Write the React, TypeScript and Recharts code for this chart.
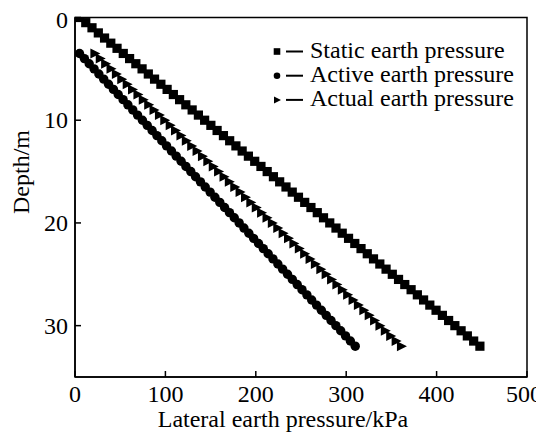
import React from 'react';
import { ScatterChart, Scatter, XAxis, YAxis, ReferenceArea } from 'recharts';

// Depth (m) and lateral earth pressure (kPa) for each series
const staticDepth = [0, 0.5, 1, 1.5, 2, 2.5, 3, 3.5, 4, 4.5, 5, 5.5, 6, 6.5, 7, 7.5, 8, 8.5, 9, 9.5, 10, 10.5, 11, 11.5, 12, 12.5, 13, 13.5, 14, 14.5, 15, 15.5, 16, 16.5, 17, 17.5, 18, 18.5, 19, 19.5, 20, 20.5, 21, 21.5, 22, 22.5, 23, 23.5, 24, 24.5, 25, 25.5, 26, 26.5, 27, 27.5, 28, 28.5, 29, 29.5, 30, 30.5, 31, 31.5, 32];
const staticPressure = [5, 11.9, 18.8, 25.8, 32.7, 39.6, 46.5, 53.4, 60.4, 67.3, 74.2, 81.1, 88.0, 95.0, 101.9, 108.8, 115.7, 122.6, 129.6, 136.5, 143.4, 150.3, 157.2, 164.2, 171.1, 178.0, 184.9, 191.8, 198.8, 205.7, 212.6, 219.5, 226.4, 233.4, 240.3, 247.2, 254.1, 261.0, 268.0, 274.9, 281.8, 288.7, 295.6, 302.6, 309.5, 316.4, 323.3, 330.2, 337.2, 344.1, 351.0, 357.9, 364.8, 371.8, 378.7, 385.6, 392.5, 399.4, 406.4, 413.3, 420.2, 427.1, 434.0, 441.0, 447.9];

const activeDepth = [3.5, 4, 4.5, 5, 5.5, 6, 6.5, 7, 7.5, 8, 8.5, 9, 9.5, 10, 10.5, 11, 11.5, 12, 12.5, 13, 13.5, 14, 14.5, 15, 15.5, 16, 16.5, 17, 17.5, 18, 18.5, 19, 19.5, 20, 20.5, 21, 21.5, 22, 22.5, 23, 23.5, 24, 24.5, 25, 25.5, 26, 26.5, 27, 27.5, 28, 28.5, 29, 29.5, 30, 30.5, 31, 31.5, 32];
const activePressure = [5, 10.4, 15.7, 21.1, 26.4, 31.8, 37.1, 42.5, 47.8, 53.2, 58.5, 63.9, 69.2, 74.6, 79.9, 85.3, 90.6, 96.0, 101.3, 106.7, 112.0, 117.4, 122.7, 128.1, 133.4, 138.8, 144.1, 149.5, 154.8, 160.2, 165.5, 170.9, 176.2, 181.6, 186.9, 192.3, 197.6, 203.0, 208.3, 213.7, 219.0, 224.4, 229.7, 235.1, 240.4, 245.8, 251.1, 256.5, 261.8, 267.2, 272.5, 277.9, 283.2, 288.6, 293.9, 299.3, 304.6, 310.0];

const actualDepth = [3.5, 4, 4.5, 5, 5.5, 6, 6.5, 7, 7.5, 8, 8.5, 9, 9.5, 10, 10.5, 11, 11.5, 12, 12.5, 13, 13.5, 14, 14.5, 15, 15.5, 16, 16.5, 17, 17.5, 18, 18.5, 19, 19.5, 20, 20.5, 21, 21.5, 22, 22.5, 23, 23.5, 24, 24.5, 25, 25.5, 26, 26.5, 27, 27.5, 28, 28.5, 29, 29.5, 30, 30.5, 31, 31.5, 32];
const actualPressure = [22, 27.9, 33.9, 39.8, 45.8, 51.7, 57.7, 63.6, 69.6, 75.5, 81.5, 87.4, 93.4, 99.3, 105.3, 111.2, 117.2, 123.1, 129.1, 135.0, 141.0, 146.9, 152.9, 158.8, 164.8, 170.7, 176.7, 182.6, 188.6, 194.5, 200.5, 206.4, 212.4, 218.3, 224.3, 230.2, 236.2, 242.1, 248.1, 254.0, 260.0, 265.9, 271.9, 277.8, 283.8, 289.7, 295.7, 301.6, 307.6, 313.5, 319.5, 325.4, 331.4, 337.3, 343.3, 349.2, 355.2, 361.1];

const seriesNames = ['Static earth pressure', 'Active earth pressure', 'Actual earth pressure'];
const xTicks = [0, 100, 200, 300, 400, 500];
const yTicks = [0, 10, 20, 30];
const xTitle = 'Lateral earth pressure/kPa';
const yTitle = 'Depth/m';

const FONT = 'Liberation Serif, Times New Roman, DejaVu Serif, serif';
const FS = 24;
const textStyle: React.CSSProperties = { fontFamily: FONT, fontSize: FS };

const W = 544;
const H = 432;

const toPoints = (ps: number[], ds: number[]) => ps.map((p, i) => ({ x: p, y: ds[i] }));
const staticData = toPoints(staticPressure, staticDepth);
const activeData = toPoints(activePressure, activeDepth);
const actualData = toPoints(actualPressure, actualDepth);

const SquareShape = (props: any) => {
  const { cx, cy } = props;
  if (cx == null || cy == null) return null;
  return <rect x={cx - 4.6} y={cy - 4.6} width={9.2} height={9.2} fill="#000" />;
};
const CircleShape = (props: any) => {
  const { cx, cy } = props;
  if (cx == null || cy == null) return null;
  return <circle cx={cx} cy={cy} r={4.7} fill="#000" />;
};
const TriShape = (props: any) => {
  const { cx, cy } = props;
  if (cx == null || cy == null) return null;
  return <polygon points={`${cx - 4.5},${cy - 5} ${cx + 5.5},${cy} ${cx - 4.5},${cy + 5}`} fill="#000" />;
};

const XTick = (props: any) => {
  const { x, y, payload } = props;
  const tx = Math.min(x, W - 20);
  return (
    <g>
      <line x1={x} y1={y} x2={x} y2={y - 6} stroke="#000" strokeWidth={1.5} />
      <text x={tx} y={y + 25} textAnchor="middle" style={textStyle} fill="#000">
        {payload.value}
      </text>
    </g>
  );
};

const YTick = (props: any) => {
  const { x, y, payload } = props;
  return (
    <g>
      <line x1={x} y1={y} x2={x + 6} y2={y} stroke="#000" strokeWidth={1.5} />
      <text x={x - 7} y={Math.max(y + 8, 28)} textAnchor="end" style={textStyle} fill="#000">
        {payload.value}
      </text>
    </g>
  );
};

const LegendMarker = ({ i, cx, cy }: { i: number; cx: number; cy: number }) => {
  if (i === 0) return <rect x={cx - 3.3} y={cy - 3.3} width={6.6} height={6.6} fill="#000" />;
  if (i === 1) return <circle cx={cx} cy={cy} r={3.3} fill="#000" />;
  return <polygon points={`${cx - 3},${cy - 3.5} ${cx + 4},${cy} ${cx - 3},${cy + 3.5}`} fill="#000" />;
};

export default function App() {
  return (
    <div style={{ position: 'relative', width: W, height: H, margin: '-8px 0 0 -8px' }}>
      <ScatterChart width={W} height={H} margin={{ top: 17.5, right: 17, bottom: 0, left: 0 }}>
        <XAxis
          type="number"
          dataKey="x"
          domain={[0, 500]}
          ticks={xTicks}
          height={55}
          tickSize={0}
          tickMargin={0}
          tickLine={false}
          tick={<XTick />}
          axisLine={{ stroke: '#000', strokeWidth: 1.5 }}
          allowDataOverflow
        />
        <YAxis
          type="number"
          dataKey="y"
          domain={[0, 35]}
          ticks={yTicks}
          reversed
          width={75}
          tickSize={0}
          tickMargin={0}
          tickLine={false}
          tick={<YTick />}
          axisLine={{ stroke: '#000', strokeWidth: 1.5 }}
          allowDataOverflow
        />
        <ReferenceArea x1={0} x2={500} y1={0} y2={35} fill="none" fillOpacity={0} stroke="#000" strokeWidth={1.5} />
        <Scatter
          name={seriesNames[0]}
          data={staticData}
          fill="#000"
          line={{ stroke: '#000', strokeWidth: 1.5 }}
          lineType="joint"
          shape={<SquareShape />}
          isAnimationActive={false}
        />
        <Scatter
          name={seriesNames[1]}
          data={activeData}
          fill="#000"
          line={{ stroke: '#000', strokeWidth: 1.5 }}
          lineType="joint"
          shape={<CircleShape />}
          isAnimationActive={false}
        />
        <Scatter
          name={seriesNames[2]}
          data={actualData}
          fill="#000"
          line={{ stroke: '#000', strokeWidth: 1.5 }}
          lineType="joint"
          shape={<TriShape />}
          isAnimationActive={false}
        />
      </ScatterChart>
      <svg
        width={W}
        height={H}
        style={{ position: 'absolute', left: 0, top: 0, pointerEvents: 'none' }}
      >
        {seriesNames.map((name, i) => {
          const baseline = 57.5 + i * 24.2;
          const cy = baseline - 6;
          return (
            <g key={name}>
              <LegendMarker i={i} cx={277} cy={cy} />
              <line x1={286} x2={303} y1={cy} y2={cy} stroke="#000" strokeWidth={2} />
              <text x={310} y={baseline} style={textStyle} fill="#000">
                {name}
              </text>
            </g>
          );
        })}
        <text x={283} y={427} textAnchor="middle" style={textStyle} fill="#000">
          {xTitle}
        </text>
        <text
          x={0}
          y={0}
          transform={`translate(29, 172) rotate(-90)`}
          textAnchor="middle"
          style={textStyle}
          fill="#000"
        >
          {yTitle}
        </text>
      </svg>
    </div>
  );
}
